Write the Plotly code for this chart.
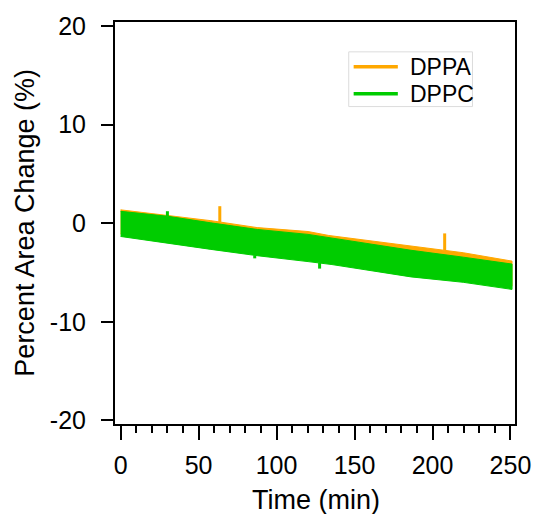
import plotly.graph_objects as go
import numpy as np

# ---------------- data ----------------
# DPPA band (orange): envelope of the noisy trace
dppa_time = [0, 28.3, 57.9, 87.6, 120.2, 133.5, 186.2, 219.7, 251.0]
dppa_top = [1.35, 0.8, 0.25, -0.45, -0.85, -1.25, -2.3, -3.0, -3.85]
dppa_bottom = [-1.1, -1.7, -2.35, -3.0, -3.55, -3.9, -5.1, -5.7, -6.4]
dppa_spike_time = [63.6, 207.8]
dppa_spike_value = [1.72, -1.04]

# DPPC band (green)
dppc_time = [0, 30.2, 57.9, 87.6, 120.2, 135.5, 186.2, 219.7, 251.0]
dppc_top = [1.2, 0.7, 0.03, -0.64, -1.14, -1.5, -2.75, -3.45, -4.15]
dppc_bottom = [-1.35, -2.0, -2.66, -3.3, -3.9, -4.2, -5.45, -6.0, -6.72]
dppc_spike_time = [30.0, 86.0, 127.6]
dppc_spike_value = [1.21, -3.57, -4.61]

series_names = ["DPPA", "DPPC"]
x_ticks = [0, 50, 100, 150, 200, 250]
x_ticktext = ["0", "50", "100", "150", "200", "250"]
y_ticks = [-20, -10, 0, 10, 20]
y_ticktext = ["-20", "-10", "0", "10", "20"]

ORANGE = "#FFA800"
GREEN = "#00CC00"
FONT = "Arial, Liberation Sans, sans-serif"

# plot-area geometry (pixels) used for placing legend/titles
L, R, T, B = 115, 522.3, 20, 424
W, H = 543, 514


def px(xp):
    return (xp - L) / (R - L)


def py(yp):
    return (B - yp) / (B - T)


def band(times, top, bottom, color):
    return go.Scatter(
        x=list(times) + list(times)[::-1],
        y=list(top) + list(bottom)[::-1],
        mode="lines", fill="toself", fillcolor=color,
        line=dict(color=color, width=1), showlegend=False, hoverinfo="skip",
    )


def spikes(times, top, bottom, st, sv, color):
    xs, ys = [], []
    for t, v in zip(st, sv):
        up = np.interp(t, times, top)
        lo = np.interp(t, times, bottom)
        base = up if v > up else lo
        xs += [t, t, None]
        ys += [base, v, None]
    return go.Scatter(x=xs, y=ys, mode="lines", line=dict(color=color, width=3),
                      showlegend=False, hoverinfo="skip")


fig = go.Figure()
fig.add_trace(band(dppa_time, dppa_top, dppa_bottom, ORANGE))
fig.add_trace(spikes(dppa_time, dppa_top, dppa_bottom, dppa_spike_time, dppa_spike_value, ORANGE))
fig.add_trace(band(dppc_time, dppc_top, dppc_bottom, GREEN))
fig.add_trace(spikes(dppc_time, dppc_top, dppc_bottom, dppc_spike_time, dppc_spike_value, GREEN))

# manual legend (box, line samples, labels)
shapes = [dict(type="rect", xref="paper", yref="paper", x0=px(353), x1=px(479),
               y0=py(105), y1=py(50), line=dict(color="#dcdcdc", width=1),
               fillcolor="white", layer="above")]
annotations = []
for i, (name, col) in enumerate(zip(series_names, [ORANGE, GREEN])):
    yc = 65 + i * 27
    shapes.append(dict(type="line", xref="paper", yref="paper", x0=px(358), x1=px(403),
                       y0=py(yc), y1=py(yc), line=dict(color=col, width=3.5), layer="above"))
    annotations.append(dict(text=name, xref="paper", yref="paper", x=px(413), y=py(yc),
                            xanchor="left", yanchor="middle", showarrow=False,
                            font=dict(family=FONT, size=23, color="black")))

annotations += [
    dict(text="Time (min)", xref="paper", yref="paper", x=px(319.5),
         y=py(500), xanchor="center", yanchor="middle", showarrow=False,
         font=dict(family=FONT, size=27, color="black")),
    dict(text="Percent Area Change (%)", xref="paper", yref="paper", x=px(23),
         y=py(222), xanchor="center", yanchor="middle", showarrow=False,
         textangle=-90, font=dict(family=FONT, size=27, color="black")),
]

fig.update_layout(
    width=W, height=H,
    margin=dict(l=L, r=W - R, t=T, b=H - B),
    plot_bgcolor="white", paper_bgcolor="white",
    font=dict(family=FONT, size=25, color="black"),
    showlegend=False,
    xaxis=dict(range=[-3.6, 252.9], tickvals=x_ticks, ticktext=x_ticktext,
               showgrid=False, zeroline=False,
               showline=True, mirror=True, linecolor="black", linewidth=2,
               ticks="outside", ticklen=14, tickwidth=2, tickcolor="black",
               ticklabelstandoff=4,
               minor=dict(dtick=10, ticks="outside", ticklen=7, tickwidth=2, tickcolor="black",
                          showgrid=False),
               tickfont=dict(family=FONT, size=25)),
    yaxis=dict(range=[-20.37, 20.40], tickvals=y_ticks, ticktext=y_ticktext,
               showgrid=False, zeroline=False,
               showline=True, mirror=True, linecolor="black", linewidth=2,
               ticks="outside", ticklen=12, tickwidth=2, tickcolor="black",
               ticklabelstandoff=10,
               tickfont=dict(family=FONT, size=25)),
    shapes=shapes,
    annotations=annotations,
)

fig.write_html("out.html")
